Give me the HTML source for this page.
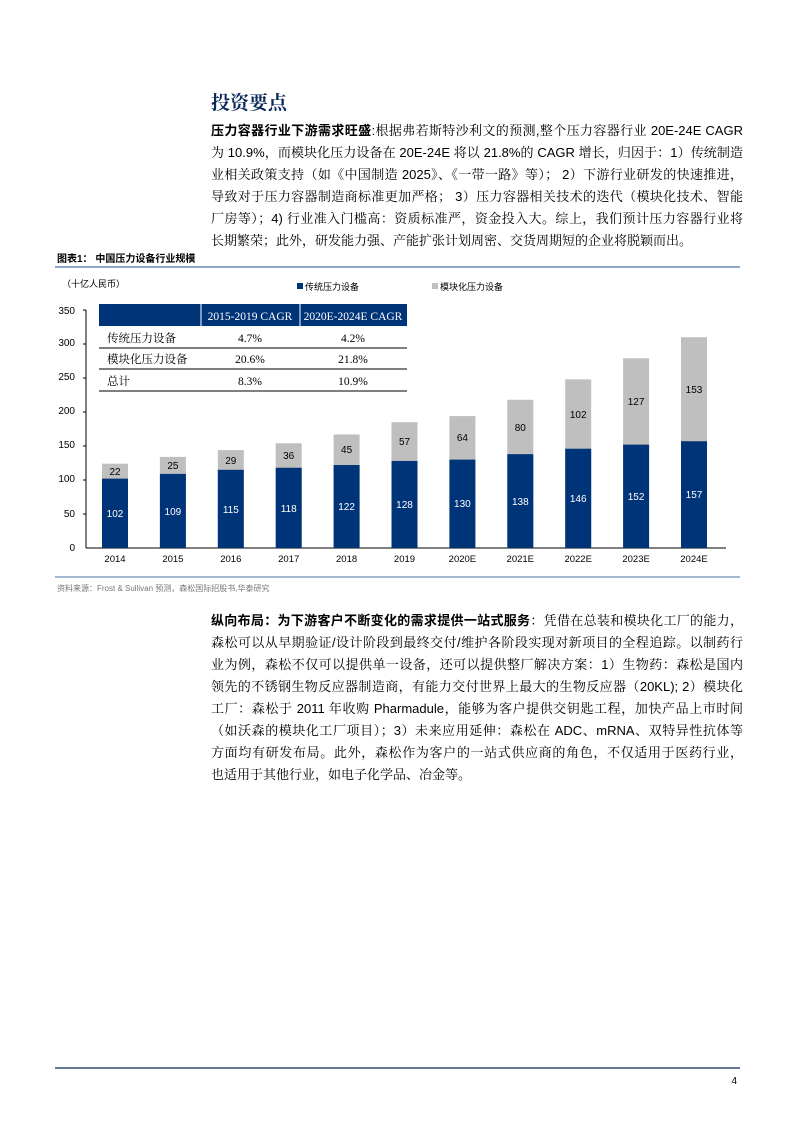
<!DOCTYPE html>
<html><head><meta charset="utf-8"><style>
body{margin:0;background:#fff;}
#p{position:relative;width:793px;height:1122px;overflow:hidden;font-family:"Liberation Sans","Noto Sans CJK SC",sans-serif;color:#000;}
.h{position:absolute;left:211px;top:88px;font-size:19px;font-weight:bold;color:#0b2a5b;font-family:"Liberation Serif","Noto Serif CJK SC",serif;}
.para{position:absolute;left:211px;width:532px;font-size:13px;font-family:"Liberation Sans","Noto Serif CJK SC",serif;}
.para div{height:22px;line-height:22px;text-align:justify;text-align-last:justify;white-space:nowrap;}
.para div.l{text-align-last:left;}
.para b{font-weight:bold;font-family:"Liberation Sans","Noto Sans CJK SC",sans-serif;}
</style></head><body><div id="p">
<div class="h">投资要点</div>
<div class="para" style="top:120px">
<div><b>压力容器行业下游需求旺盛</b>:根据弗若斯特沙利文的预测,整个压力容器行业 20E-24E CAGR</div>
<div>为 10.9%，而模块化压力设备在 20E-24E 将以 21.8%的 CAGR 增长，归因于：1）传统制造</div>
<div>业相关政策支持（如《中国制造 2025》、《一带一路》等）； 2）下游行业研发的快速推进，</div>
<div>导致对于压力容器制造商标准更加严格； 3）压力容器相关技术的迭代（模块化技术、智能</div>
<div>厂房等）；4) 行业准入门槛高：资质标准严，资金投入大。综上，我们预计压力容器行业将</div>
<div class="l">长期繁荣；此外，研发能力强、产能扩张计划周密、交货周期短的企业将脱颖而出。</div>
</div>
<svg style="position:absolute;left:0;top:0" width="793" height="1122" font-family="Liberation Sans, Noto Sans CJK SC, sans-serif">
<text x="57" y="262" font-size="10" font-weight="bold">图表1：  中国压力设备行业规模</text>
<line x1="55" y1="267" x2="740" y2="267" stroke="#4a72a8" stroke-width="1.2"/>
<text x="62" y="287" font-size="9">（十亿人民币）</text>
<rect x="297" y="283" width="6" height="6" fill="#003478"/><text x="305" y="290" font-size="9">传统压力设备</text>
<rect x="432" y="283" width="6" height="6" fill="#bfbfbf"/><text x="440" y="290" font-size="9">模块化压力设备</text>
<g font-size="10" text-anchor="end">
<text x="75" y="314">350</text><text x="75" y="346">300</text><text x="75" y="380">250</text><text x="75" y="414">200</text><text x="75" y="448">150</text><text x="75" y="482">100</text><text x="75" y="517">50</text><text x="75" y="551">0</text>
</g>
<line x1="86" y1="310" x2="86" y2="548" stroke="#000"/>
<line x1="86" y1="548" x2="726" y2="548" stroke="#000"/>
<g stroke="#000">
<line x1="83" y1="310" x2="86" y2="310"/><line x1="83" y1="344" x2="86" y2="344"/><line x1="83" y1="378" x2="86" y2="378"/><line x1="83" y1="412" x2="86" y2="412"/><line x1="83" y1="446" x2="86" y2="446"/><line x1="83" y1="480" x2="86" y2="480"/><line x1="83" y1="514" x2="86" y2="514"/>
</g>
<g transform="translate(0,548) scale(1,-0.68)">
<g fill="#bfbfbf">
<rect x="102" y="0" width="26" height="124"/><rect x="159.9" y="0" width="26" height="134"/><rect x="217.8" y="0" width="26" height="144"/><rect x="275.7" y="0" width="26" height="154"/><rect x="333.6" y="0" width="26" height="167"/><rect x="391.5" y="0" width="26" height="185"/><rect x="449.4" y="0" width="26" height="194"/><rect x="507.3" y="0" width="26" height="218"/><rect x="565.2" y="0" width="26" height="248"/><rect x="623.1" y="0" width="26" height="279"/><rect x="681" y="0" width="26" height="310"/>
</g>
<g fill="#003478">
<rect x="102" y="0" width="26" height="102"/><rect x="159.9" y="0" width="26" height="109"/><rect x="217.8" y="0" width="26" height="115"/><rect x="275.7" y="0" width="26" height="118"/><rect x="333.6" y="0" width="26" height="122"/><rect x="391.5" y="0" width="26" height="128"/><rect x="449.4" y="0" width="26" height="130"/><rect x="507.3" y="0" width="26" height="138"/><rect x="565.2" y="0" width="26" height="146"/><rect x="623.1" y="0" width="26" height="152"/><rect x="681" y="0" width="26" height="157"/>
</g></g>
<g font-size="10" text-anchor="middle" fill="#fff">
<text x="115" y="517">102</text><text x="172.9" y="515">109</text><text x="230.8" y="513">115</text><text x="288.7" y="512">118</text><text x="346.6" y="510">122</text><text x="404.5" y="508">128</text><text x="462.4" y="507">130</text><text x="520.3" y="505">138</text><text x="578.2" y="502">146</text><text x="636.1" y="500">152</text><text x="694" y="498">157</text>
</g>
<g font-size="10" text-anchor="middle" fill="#000">
<text x="115" y="475">22</text><text x="172.9" y="469">25</text><text x="230.8" y="464">29</text><text x="288.7" y="459">36</text><text x="346.6" y="453">45</text><text x="404.5" y="445">57</text><text x="462.4" y="441">64</text><text x="520.3" y="431">80</text><text x="578.2" y="418">102</text><text x="636.1" y="405">127</text><text x="694" y="393">153</text>
</g>
<g font-size="9.5" text-anchor="middle">
<text x="115" y="562">2014</text><text x="172.9" y="562">2015</text><text x="230.8" y="562">2016</text><text x="288.7" y="562">2017</text><text x="346.6" y="562">2018</text><text x="404.5" y="562">2019</text><text x="462.4" y="562">2020E</text><text x="520.3" y="562">2021E</text><text x="578.2" y="562">2022E</text><text x="636.1" y="562">2023E</text><text x="694" y="562">2024E</text>
</g>
<rect x="99" y="304" width="308" height="87" fill="#fff"/>
<rect x="99" y="304" width="308" height="22" fill="#003478"/>
<line x1="201" y1="304" x2="201" y2="326" stroke="#fff"/><line x1="300" y1="304" x2="300" y2="326" stroke="#fff"/>
<g font-family="Liberation Serif, Noto Serif CJK SC, serif" font-size="11.5">
<text x="250" y="320" fill="#fff" text-anchor="middle">2015-2019 CAGR</text>
<text x="353" y="320" fill="#fff" text-anchor="middle">2020E-2024E CAGR</text>
<text x="107" y="342">传统压力设备</text><text x="250" y="342" text-anchor="middle">4.7%</text><text x="353" y="342" text-anchor="middle">4.2%</text>
<text x="107" y="363">模块化压力设备</text><text x="250" y="363" text-anchor="middle">20.6%</text><text x="353" y="363" text-anchor="middle">21.8%</text>
<text x="107" y="385">总计</text><text x="250" y="385" text-anchor="middle">8.3%</text><text x="353" y="385" text-anchor="middle">10.9%</text>
</g>
<line x1="99" y1="348" x2="407" y2="348" stroke="#333" stroke-width="1.2"/>
<line x1="99" y1="369" x2="407" y2="369" stroke="#333" stroke-width="1.2"/>
<line x1="99" y1="391" x2="407" y2="391" stroke="#333" stroke-width="1.2"/>
<line x1="55" y1="577" x2="740" y2="577" stroke="#4a72a8" stroke-width="1"/>
<text x="57" y="591" font-size="8" fill="#777">资料来源：Frost &amp; Sullivan 预测，森松国际招股书,华泰研究</text>
<line x1="55" y1="1068" x2="740" y2="1068" stroke="#0b2a5b" stroke-width="1.2"/>
<text x="737" y="1084" font-size="10" text-anchor="end">4</text>
</svg>
<div class="para" style="top:610px">
<div><b>纵向布局：为下游客户不断变化的需求提供一站式服务</b>：凭借在总装和模块化工厂的能力，</div>
<div>森松可以从早期验证/设计阶段到最终交付/维护各阶段实现对新项目的全程追踪。以制药行</div>
<div>业为例，森松不仅可以提供单一设备，还可以提供整厂解决方案：1）生物药：森松是国内</div>
<div>领先的不锈钢生物反应器制造商，有能力交付世界上最大的生物反应器（20KL); 2）模块化</div>
<div>工厂：森松于 2011 年收购 Pharmadule，能够为客户提供交钥匙工程，加快产品上市时间</div>
<div>（如沃森的模块化工厂项目）；3）未来应用延伸：森松在 ADC、mRNA、双特异性抗体等</div>
<div>方面均有研发布局。此外，森松作为客户的一站式供应商的角色，不仅适用于医药行业，</div>
<div class="l">也适用于其他行业，如电子化学品、冶金等。</div>
</div>
</div></body></html>
